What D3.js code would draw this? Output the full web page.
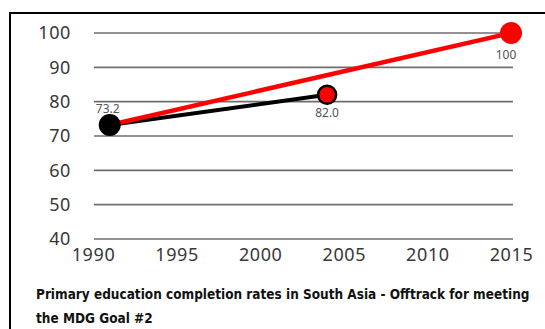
<!DOCTYPE html>
<html>
<head>
<meta charset="utf-8">
<script src="https://cdn.jsdelivr.net/npm/d3@7"></script>
<style>
  html, body { margin: 0; padding: 0; background: #fff; }
  svg { display: block; }
</style>
</head>
<body>
<svg id="chart" width="545" height="329"></svg>
<script>
// Primary education completion rates, South Asia
const years = [1991, 2004];
const actualRates = [73.2, 82.0];
const targetYears = [1991, 2015];
const targetRates = [73.2, 100];
const yTicks = [40, 50, 60, 70, 80, 90, 100];
const xTicks = [1990, 1995, 2000, 2005, 2010, 2015];
const captionLines = [
  "Primary education completion rates in South Asia - Offtrack for meeting",
  "the MDG Goal #2"
];

const svg = d3.select("#chart");

// frame (top and left edges)
svg.append("path")
  .attr("d", "M10,330 L10,13 L546,13")
  .attr("fill", "none")
  .attr("stroke", "#000")
  .attr("stroke-width", 2);

const x = d3.scaleLinear().domain([1990, 2015]).range([93, 511]);
const y = d3.scaleLinear().domain([40, 100]).range([239, 33]);

// horizontal gridlines with value labels
const yAxis = d3.axisLeft(y).tickValues(yTicks).tickSize(0).tickPadding(0);
const gy = svg.append("g").attr("transform", "translate(71,0)").call(yAxis);
gy.select(".domain").remove();
gy.selectAll("text")
  .attr("x", 0)
  .attr("font-family", "'Noto Sans', sans-serif")
  .attr("font-size", 18)
  .attr("letter-spacing", 0.6)
  .attr("fill", "#383838");

svg.append("g").selectAll("line")
  .data(yTicks)
  .join("line")
  .attr("x1", x(1990) + 1)
  .attr("x2", x(2015) + 2)
  .attr("y1", d => y(d))
  .attr("y2", d => y(d))
  .attr("stroke", "#6e6e6e")
  .attr("stroke-width", 1.6);

// year labels
const xAxis = d3.axisBottom(x).tickValues(xTicks).tickFormat(d3.format("d")).tickSize(0).tickPadding(0);
const gx = svg.append("g").attr("transform", "translate(0,248)").call(xAxis);
gx.select(".domain").remove();
gx.selectAll("text")
  .attr("dy", "0.71em")
  .attr("font-family", "'Noto Sans', sans-serif")
  .attr("font-size", 18)
  .attr("letter-spacing", 0.6)
  .attr("fill", "#383838");

const line = d3.line().x(d => x(d[0])).y(d => y(d[1]));
const actual = d3.zip(years, actualRates);
const target = d3.zip(targetYears, targetRates);

svg.append("path")
  .datum(actual)
  .attr("d", line)
  .attr("fill", "none")
  .attr("stroke", "#000")
  .attr("stroke-width", 4);

svg.append("path")
  .datum(target)
  .attr("d", line)
  .attr("fill", "none")
  .attr("stroke", "#ff0000")
  .attr("stroke-width", 4.5);

// markers
svg.append("circle")
  .attr("cx", x(years[0])).attr("cy", y(actualRates[0]))
  .attr("r", 11).attr("fill", "#000");

svg.append("circle")
  .attr("cx", x(years[1])).attr("cy", y(actualRates[1]))
  .attr("r", 9).attr("fill", "#ff0000")
  .attr("stroke", "#000").attr("stroke-width", 2.5);

svg.append("circle")
  .attr("cx", x(targetYears[1])).attr("cy", y(targetRates[1]))
  .attr("r", 11).attr("fill", "#ff0000");

// value labels
const labelStyle = sel => sel
  .attr("font-family", "'Noto Sans', sans-serif")
  .attr("font-size", 12)
  .attr("fill", "#555")
  .attr("text-anchor", "middle");

svg.append("text")
  .attr("x", x(years[0]) - 2).attr("y", y(actualRates[0]) - 12)
  .text(actualRates[0].toFixed(1)).call(labelStyle);

svg.append("text")
  .attr("x", x(years[1])).attr("y", y(actualRates[1]) + 22)
  .text(actualRates[1].toFixed(1)).call(labelStyle);

svg.append("text")
  .attr("x", x(targetYears[1]) - 5).attr("y", y(targetRates[1]) + 26)
  .text(String(targetRates[1])).call(labelStyle);

// caption, squeezed horizontally to fit the frame width
const cap = svg.append("g");
const capText = cap.selectAll("text")
  .data(captionLines)
  .join("text")
  .attr("x", 0)
  .attr("y", (d, i) => i * 24)
  .attr("font-family", "'DejaVu Sans Condensed', 'DejaVu Sans', sans-serif")
  .attr("font-weight", "bold")
  .attr("font-size", 14)
  .attr("fill", "#111")
  .text(d => d);
const natural = capText.nodes()[0].getComputedTextLength();
const sx = 494 / natural;
cap.attr("transform", `translate(36,299) scale(${sx},1)`);
</script>
</body>
</html>
